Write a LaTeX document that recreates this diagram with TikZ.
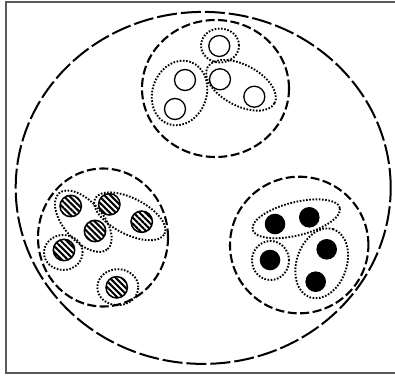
\documentclass[tikz,border=0pt]{standalone}
\usetikzlibrary{patterns.meta}

\begin{document}
\begin{tikzpicture}[x=1pt, y=1pt,
    outerline/.style={line width=2pt, dash pattern=on 20pt off 4pt},
    groupline/.style={line width=2.1pt, dash pattern=on 9pt off 3.5pt},
    dotline/.style={line width=1.9pt, dash pattern=on 1.6pt off 1.6pt},
    hollowball/.style={line width=1.3pt},
    stripedball/.style={line width=1.5pt, pattern={Lines[angle=-45, distance=4.2pt, line width=2.1pt]}},
    filledball/.style={fill=black}]
    \useasboundingbox (0,0) rectangle (395,376);
    % frame
    \draw[black!65, line width=1.2pt] (400,374) -- (6,374) -- (6,3) -- (400,3);
    % whole set and its three groups
    \draw[outerline] (203.2,188.1) ellipse [x radius=187.5, y radius=176];
    \draw[groupline] (215.5,287.5) ellipse [x radius=73.5, y radius=68.5];
    \draw[groupline] (103,138.5) ellipse [x radius=65, y radius=69];
    \draw[groupline] (299.2,131) ellipse [x radius=69.2, y radius=68.3];
    % dotted subsets
    \foreach \cx/\cy/\ra/\rb/\tilt in {
        220/330.5/19/17/0, 179.5/283/33/27/70, 241/290.7/38/20.4/-28,
        63.3/123.5/19.3/17.5/0, 117.8/88.8/20.5/18/0, 83.3/154.8/37/19.5/-49, 129.8/159.7/39/18/-27,
        296.2/157.2/45/16.6/14, 270.5/115.5/18.5/19.5/0, 321.7/112.7/36/25/71}
        \draw[dotline, rotate around={\tilt:(\cx,\cy)}] (\cx,\cy) ellipse [x radius=\ra, y radius=\rb];
    % elements
    \foreach \p in {(219.3,330), (185,296), (220,296.7), (254.3,279.3), (175,267)}
        \draw[hollowball] \p circle (10.5);
    \foreach \p in {(70.7,170), (109.3,171.7), (141.7,154.3), (95,145), (64,126), (116.7,88.7)}
        \draw[stripedball] \p circle (10.7);
    \foreach \p in {(275,152), (309.3,158.7), (326.7,126.7), (270,116), (315.7,94.3)}
        \fill[filledball] \p circle (10.3);
\end{tikzpicture}
\end{document}
